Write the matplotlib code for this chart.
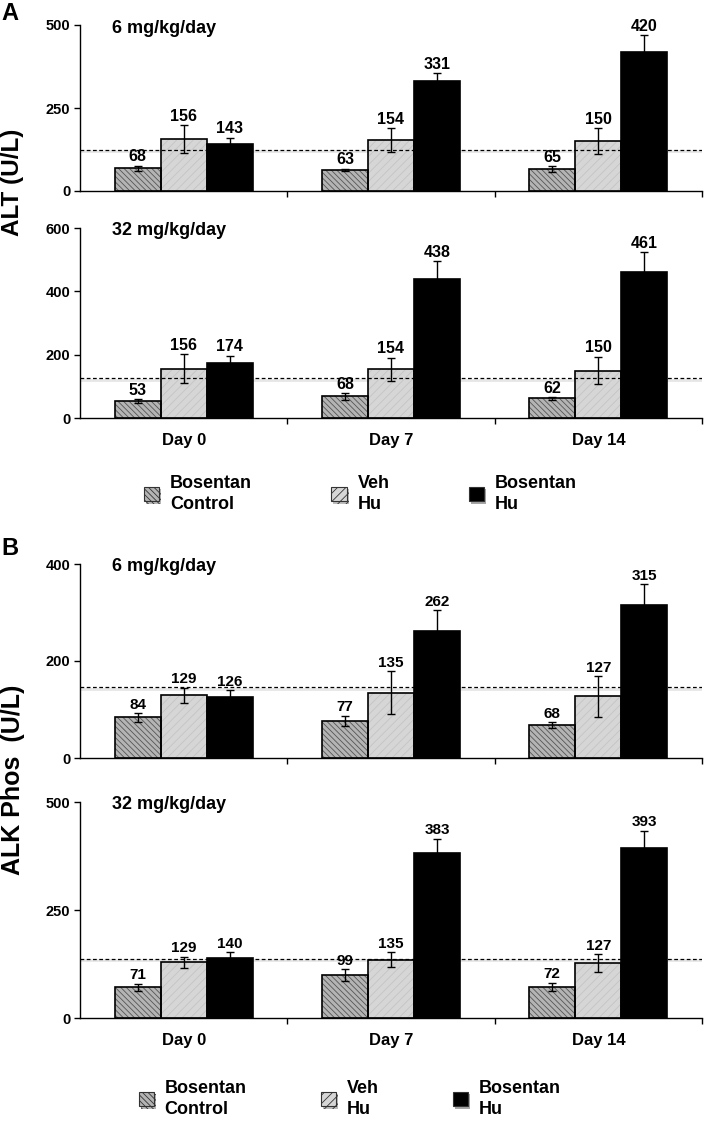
import matplotlib
matplotlib.use("Agg")
import matplotlib.pyplot as plt
import matplotlib.patheffects as pe
from matplotlib.patches import Patch
import numpy as np

plt.rcParams["font.family"] = ["Liberation Sans", "DejaVu Sans"]
plt.rcParams["font.weight"] = "bold"
plt.rcParams["hatch.linewidth"] = 0.6

# ---- data ----
days = ["Day 0", "Day 7", "Day 14"]
groups = ["Bosentan\nControl", "Veh\nHu", "Bosentan\nHu"]

alt6_ctrl = [68, 63, 65]
alt6_ctrl_err = [8, 4, 9]
alt6_veh = [156, 154, 150]
alt6_veh_err = [42, 36, 40]
alt6_bos = [143, 331, 420]
alt6_bos_err = [17, 23, 50]

alt32_ctrl = [53, 68, 62]
alt32_ctrl_err = [6, 10, 4]
alt32_veh = [156, 154, 150]
alt32_veh_err = [45, 36, 44]
alt32_bos = [174, 438, 461]
alt32_bos_err = [23, 57, 62]

alk6_ctrl = [84, 77, 68]
alk6_ctrl_err = [9, 10, 6]
alk6_veh = [129, 135, 127]
alk6_veh_err = [16, 44, 42]
alk6_bos = [126, 262, 315]
alk6_bos_err = [14, 43, 43]

alk32_ctrl = [71, 99, 72]
alk32_ctrl_err = [8, 14, 10]
alk32_veh = [129, 135, 127]
alk32_veh_err = [13, 17, 21]
alk32_bos = [140, 383, 393]
alk32_bos_err = [12, 32, 41]

# upper limit of normal (dashed line)
alt_ref = [123, 125]
alk_ref = [146, 137]

# ---- styles ----
styles = [
    dict(facecolor="#b4b4b4", hatch="\\\\\\\\\\\\", hatchcolor="#555555"),
    dict(facecolor="#d6d6d6", hatch="////", hatchcolor="#c4c4c4"),
    dict(facecolor="black", hatch=None, hatchcolor="black"),
]

W, H = 711, 1128
fig = plt.figure(figsize=(W / 100, H / 100), dpi=100)

x0, x1 = 80 / W, 702 / W


def make_ax(top_px, bot_px):
    return fig.add_axes([x0, 1 - bot_px / H, x1 - x0, (bot_px - top_px) / H])


def draw_panel(ax, series, errs, ref, ymax, yticks, dose, show_days, label_fs):
    x = np.arange(len(days))
    width = 0.222
    for i, (vals, err) in enumerate(zip(series, errs)):
        pos = x + (i - 1) * width
        st = styles[i]
        ax.bar(pos, vals, width, color=st["facecolor"], hatch=st["hatch"],
               edgecolor=st["hatchcolor"], linewidth=0, zorder=2)
        ax.bar(pos, vals, width, facecolor="none", edgecolor="black",
               linewidth=1.2, zorder=3)
        ax.errorbar(pos, vals, yerr=err, fmt="none", ecolor="black",
                    elinewidth=1.0, capsize=3, capthick=1.0, zorder=4)
        for px_, v, e in zip(pos, vals, err):
            ax.annotate(f"{v}", (px_, v + e), xytext=(0, 1),
                        textcoords="offset points", ha="center", va="bottom",
                        fontsize=label_fs, fontweight="bold")
    # reference line with soft shadow
    ax.axhline(ref - ymax * 0.007, color="#b8b8b8", linewidth=2.0,
               alpha=0.35, zorder=1.5)
    ax.axhline(ref, color="black", linewidth=0.9, dashes=(3, 2), zorder=5)

    ax.set_xlim(-0.5, 2.5)
    ax.set_ylim(0, ymax)
    ax.set_yticks(yticks)
    ax.spines["top"].set_visible(False)
    ax.spines["right"].set_visible(False)
    ax.spines["left"].set_linewidth(1.0)
    ax.spines["bottom"].set_linewidth(1.0)
    ax.tick_params(axis="y", direction="out", length=4, width=1,
                   labelsize=10.5, pad=3)
    ax.set_xticks(x)
    ax.set_xticks([0.5, 1.5, 2.5], minor=True)
    ax.tick_params(axis="x", which="minor", direction="out", length=4, width=1)
    ax.tick_params(axis="x", which="major", length=0, pad=11, labelsize=12)
    if show_days:
        ax.set_xticklabels(days, fontweight="bold")
    else:
        ax.set_xticklabels([])
    for t in ax.get_yticklabels():
        t.set_fontweight("bold")
    ax.text(0.051, 1.03, dose, transform=ax.transAxes, ha="left", va="top",
            fontsize=13, fontweight="bold")


ax_a1 = make_ax(25, 191)
ax_a2 = make_ax(228, 418)
ax_b1 = make_ax(564, 758)
ax_b2 = make_ax(802, 1018)

draw_panel(ax_a1, [alt6_ctrl, alt6_veh, alt6_bos],
           [alt6_ctrl_err, alt6_veh_err, alt6_bos_err],
           alt_ref[0], 500, [0, 250, 500], "6 mg/kg/day", False, 11.5)
draw_panel(ax_a2, [alt32_ctrl, alt32_veh, alt32_bos],
           [alt32_ctrl_err, alt32_veh_err, alt32_bos_err],
           alt_ref[1], 600, [0, 200, 400, 600], "32 mg/kg/day", True, 11.5)
draw_panel(ax_b1, [alk6_ctrl, alk6_veh, alk6_bos],
           [alk6_ctrl_err, alk6_veh_err, alk6_bos_err],
           alk_ref[0], 400, [0, 200, 400], "6 mg/kg/day", False, 11)
draw_panel(ax_b2, [alk32_ctrl, alk32_veh, alk32_bos],
           [alk32_ctrl_err, alk32_veh_err, alk32_bos_err],
           alk_ref[1], 500, [0, 250, 500], "32 mg/kg/day", True, 11)

# axis titles and panel letters
fig.text(0.018, 1 - 182 / H, "ALT (U/L)", rotation=90, ha="center",
         va="center", fontsize=17.5, fontweight="bold")
fig.text(0.018, 1 - 780 / H, "ALK Phos  (U/L)", rotation=90, ha="center",
         va="center", fontsize=18, fontweight="bold")
fig.text(0.002, 1 - 2 / H, "A", ha="left", va="top", fontsize=17,
         fontweight="bold")
fig.text(0.002, 1 - 537 / H, "B", ha="left", va="top", fontsize=17,
         fontweight="bold")

# legends
shadow = [pe.SimplePatchShadow(offset=(1.5, -1.5), alpha=0.35), pe.Normal()]


def legend_handles():
    hs = []
    for st in styles:
        hs.append(Patch(facecolor=st["facecolor"], hatch=st["hatch"],
                        edgecolor="#333333", linewidth=0.8, path_effects=shadow))
    return hs


for xc, yc, cs in [(0.507, 1 - 494 / H, 4.4), (0.492, 1 - 1099 / H, 4.1)]:
    leg = fig.legend(legend_handles(), groups, loc="center", ncol=3,
                     bbox_to_anchor=(xc, yc), frameon=False,
                     prop=dict(size=13, weight="bold"), handlelength=0.85,
                     handleheight=0.85, handletextpad=0.6, columnspacing=cs,
                     borderpad=0, borderaxespad=0)
    for t in leg.get_texts():
        t.set_linespacing(1.35)

fig.savefig("out.png", dpi=100)
